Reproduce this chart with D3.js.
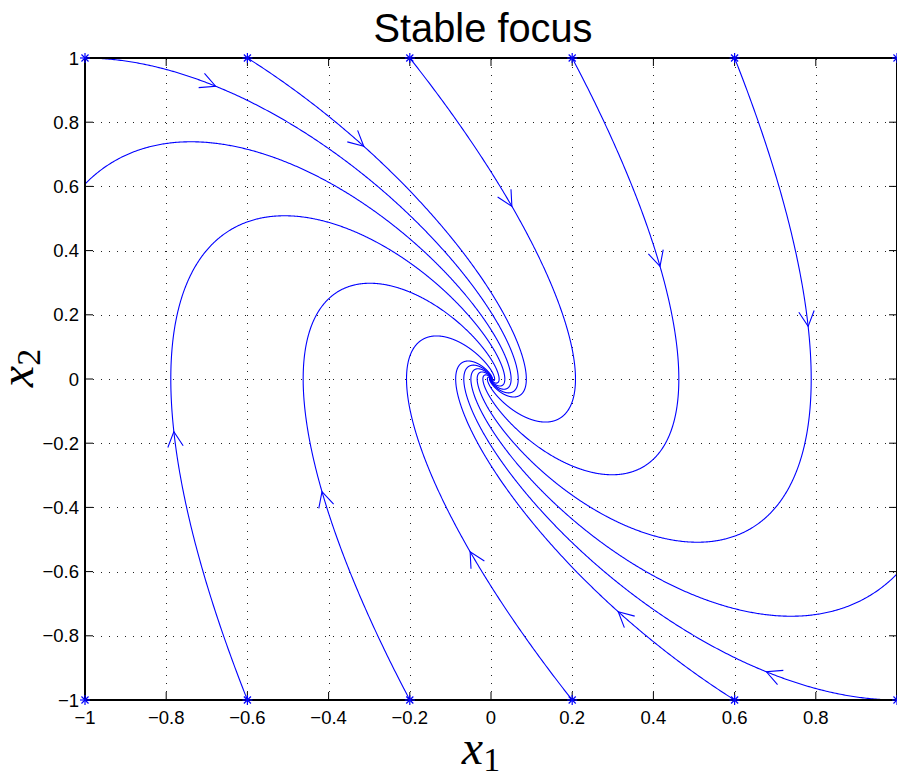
<!DOCTYPE html>
<html>
<head>
<meta charset="utf-8">
<script src="https://cdn.jsdelivr.net/npm/d3@7"></script>
<style>
  body { margin: 0; background: #fff; }
  svg { display: block; }
</style>
</head>
<body>
<script>
// system x' = A x  (stable focus, eigenvalues -1 +/- i)
var sysMatrix = [[0, 1], [-2, -2]];
// starting points of the trajectories
var startX = [-1, -0.6, -0.2, 0.2, 0.6, 1];
var startY = [1, -1];
var xTicks = [-1, -0.8, -0.6, -0.4, -0.2, 0, 0.2, 0.4, 0.6, 0.8, 1];
var xTickLabels = ["-1", "-0.8", "-0.6", "-0.4", "-0.2", "0", "0.2", "0.4", "0.6", "0.8", ""];
var yTicks = [-1, -0.8, -0.6, -0.4, -0.2, 0, 0.2, 0.4, 0.6, 0.8, 1];
var yTickLabels = ["-1", "-0.8", "-0.6", "-0.4", "-0.2", "0", "0.2", "0.4", "0.6", "0.8", "1"];
var titleText = "Stable focus";
var tEnd = 10, dt = 0.004, arrowTime = 0.33;

var W = 897, H = 772;
var plotL = 85, plotR = 897, plotT = 58, plotB = 700;

var svg = d3.select("body").append("svg").attr("width", W).attr("height", H);
var x = d3.scaleLinear().domain([-1, 1]).range([plotL, plotR]);
var y = d3.scaleLinear().domain([-1, 1]).range([plotB, plotT]);

function f(p) {
  return [sysMatrix[0][0] * p[0] + sysMatrix[0][1] * p[1],
          sysMatrix[1][0] * p[0] + sysMatrix[1][1] * p[1]];
}
function rk4(p, h) {
  var k1 = f(p);
  var k2 = f([p[0] + h / 2 * k1[0], p[1] + h / 2 * k1[1]]);
  var k3 = f([p[0] + h / 2 * k2[0], p[1] + h / 2 * k2[1]]);
  var k4 = f([p[0] + h * k3[0], p[1] + h * k3[1]]);
  return [p[0] + h / 6 * (k1[0] + 2 * k2[0] + 2 * k3[0] + k4[0]),
          p[1] + h / 6 * (k1[1] + 2 * k2[1] + 2 * k3[1] + k4[1])];
}

var starts = [];
startY.forEach(function (sy) { startX.forEach(function (sx) { starts.push([sx, sy]); }); });

var trajs = starts.map(function (s) {
  var pts = [s], p = s, t = 0, arrow = null;
  while (t < tEnd) {
    p = rk4(p, dt); t += dt;
    pts.push(p);
    if (!arrow && t >= arrowTime) arrow = { p: p, v: f(p) };
  }
  return { pts: pts, arrow: arrow };
});

svg.append("defs").append("clipPath").attr("id", "plotclip")
  .append("rect").attr("x", plotL).attr("y", plotT)
  .attr("width", plotR - plotL).attr("height", plotB - plotT);

// grid
var grid = svg.append("g").attr("stroke", "#222").attr("stroke-width", 1)
  .attr("stroke-dasharray", "1,7").attr("fill", "none");
grid.selectAll(".gx").data(xTicks.slice(1, -1)).enter().append("line")
  .attr("x1", function (d) { return Math.round(x(d)) + 0.5; })
  .attr("x2", function (d) { return Math.round(x(d)) + 0.5; })
  .attr("y1", plotB).attr("y2", plotT);
grid.selectAll(".gy").data(yTicks.slice(1, -1)).enter().append("line")
  .attr("y1", function (d) { return Math.round(y(d)) + 0.5; })
  .attr("y2", function (d) { return Math.round(y(d)) + 0.5; })
  .attr("x1", plotL).attr("x2", plotR);

// trajectories
var line = d3.line().x(function (d) { return x(d[0]); }).y(function (d) { return y(d[1]); });
var curves = svg.append("g").attr("clip-path", "url(#plotclip)");
curves.selectAll("path.traj").data(trajs).enter().append("path")
  .attr("class", "traj")
  .attr("d", function (d) { return line(d.pts); })
  .attr("fill", "none").attr("stroke", "#0000ff").attr("stroke-width", 1.1);

// arrow heads
var headLen = 17, headAng = 27 * Math.PI / 180;
curves.selectAll("path.arrow").data(trajs).enter().append("path")
  .attr("class", "arrow")
  .attr("d", function (d) {
    var tip = [x(d.arrow.p[0]), y(d.arrow.p[1])];
    var vx = x(d.arrow.p[0] + d.arrow.v[0] * 0.01) - tip[0];
    var vy = y(d.arrow.p[1] + d.arrow.v[1] * 0.01) - tip[1];
    var back = Math.atan2(-vy, -vx);
    var a1 = back + headAng, a2 = back - headAng;
    return "M" + (tip[0] + headLen * Math.cos(a1)) + "," + (tip[1] + headLen * Math.sin(a1)) +
      "L" + tip[0] + "," + tip[1] +
      "L" + (tip[0] + headLen * Math.cos(a2)) + "," + (tip[1] + headLen * Math.sin(a2));
  })
  .attr("fill", "none").attr("stroke", "#0000ff").attr("stroke-width", 1.1);

// axes box and ticks
var axes = svg.append("g").attr("stroke", "#000").attr("fill", "none");
axes.append("rect").attr("x", plotL).attr("y", plotT)
  .attr("width", plotR - plotL).attr("height", plotB - plotT).attr("stroke-width", 2);
var tl = 8;
xTicks.forEach(function (d) {
  axes.append("line").attr("x1", x(d)).attr("x2", x(d)).attr("y1", plotB).attr("y2", plotB - tl);
  axes.append("line").attr("x1", x(d)).attr("x2", x(d)).attr("y1", plotT).attr("y2", plotT + tl);
});
yTicks.forEach(function (d) {
  axes.append("line").attr("y1", y(d)).attr("y2", y(d)).attr("x1", plotL).attr("x2", plotL + tl);
  axes.append("line").attr("y1", y(d)).attr("y2", y(d)).attr("x1", plotR).attr("x2", plotR - tl);
});

function fmt(s) { return s.replace("-", "\u2212"); }
var labels = svg.append("g").attr("font-family", "'Liberation Sans', Arial, sans-serif")
  .attr("font-size", 18.5).attr("fill", "#000");
labels.selectAll(".xl").data(xTicks).enter().append("text")
  .attr("x", function (d) { return x(d); }).attr("y", 724)
  .attr("text-anchor", "middle").text(function (d, i) { return fmt(xTickLabels[i]); });
labels.selectAll(".yl").data(yTicks).enter().append("text")
  .attr("x", 79).attr("y", function (d) { return y(d) + 6.5; })
  .attr("text-anchor", "end").text(function (d, i) { return fmt(yTickLabels[i]); });

// start markers
var mk = svg.append("g").attr("stroke", "#0000ff").attr("stroke-width", 1.2);
starts.forEach(function (s) {
  var cx = x(s[0]), cy = y(s[1]), r = 5;
  [0, 45, 90, 135].forEach(function (a) {
    var ra = a * Math.PI / 180;
    mk.append("line")
      .attr("x1", cx - r * Math.cos(ra)).attr("y1", cy - r * Math.sin(ra))
      .attr("x2", cx + r * Math.cos(ra)).attr("y2", cy + r * Math.sin(ra));
  });
});

// title and axis labels
svg.append("text").attr("x", 483).attr("y", 42)
  .attr("text-anchor", "middle").attr("font-family", "'Liberation Sans', Arial, sans-serif")
  .attr("font-size", 40).attr("textLength", 219).attr("lengthAdjust", "spacingAndGlyphs")
  .text(titleText);

var xl = svg.append("text").attr("x", 481).attr("y", 764)
  .attr("text-anchor", "middle").attr("font-family", "'Liberation Serif', 'DejaVu Serif', serif");
xl.append("tspan").attr("font-style", "italic").attr("font-size", 48).text("x");
xl.append("tspan").attr("font-size", 34).attr("dy", 7).text("1");

var yl = svg.append("text").attr("transform", "translate(33,368) rotate(-90)")
  .attr("text-anchor", "middle").attr("font-family", "'Liberation Serif', 'DejaVu Serif', serif");
yl.append("tspan").attr("font-style", "italic").attr("font-size", 48).text("x");
yl.append("tspan").attr("font-size", 34).attr("dy", 7).text("2");
</script>
</body>
</html>
